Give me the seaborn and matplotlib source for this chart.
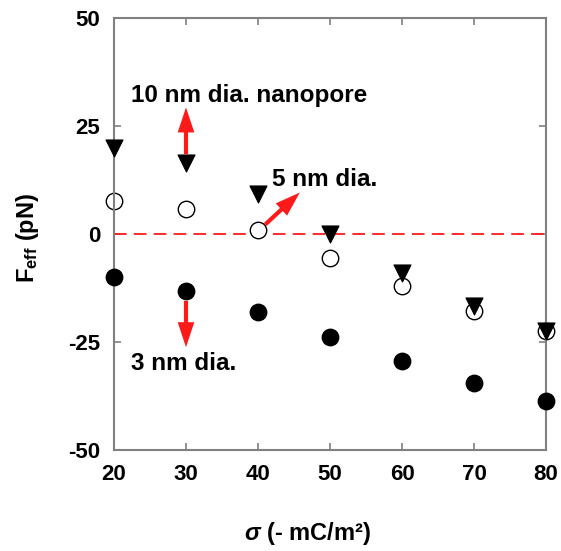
import numpy as np
import pandas as pd
import matplotlib
matplotlib.use("Agg")
import matplotlib.pyplot as plt
import seaborn as sns

# --------------------------------------------------
# DATA
# --------------------------------------------------

sigma = [20, 30, 40, 50, 60, 70, 80]
f_10nm = [20.0, 16.4, 9.2, 0.1, -9.0, -16.7, -22.5]
f_5nm = [7.7, 5.7, 0.9, -5.6, -12.1, -17.9, -22.5]
f_3nm = [-10.0, -13.1, -18.1, -23.9, -29.5, -34.6, -38.6]

x_ticks = [20, 30, 40, 50, 60, 70, 80]
y_ticks = [-50, -25, 0, 25, 50]

# --------------------------------------------------
# STYLE
# --------------------------------------------------

sns.set_style("ticks")
plt.rcParams["font.family"] = ["Liberation Sans", "DejaVu Sans"]
plt.rcParams["font.weight"] = "bold"
plt.rcParams["text.color"] = "black"
plt.rcParams["axes.labelcolor"] = "black"
plt.rcParams["axes.unicode_minus"] = False
plt.rcParams["mathtext.fontset"] = "custom"
plt.rcParams["mathtext.rm"] = "Liberation Sans:bold"
plt.rcParams["mathtext.it"] = "Liberation Sans:italic:bold"
plt.rcParams["mathtext.bf"] = "Liberation Sans:bold"

fig = plt.figure(figsize=(5.61, 5.51), dpi=100)
ax = fig.add_axes([0.2032, 0.1833, 0.7701, 0.784])

df10 = pd.DataFrame({"sigma": sigma, "F": f_10nm})
df5 = pd.DataFrame({"sigma": sigma, "F": f_5nm})
df3 = pd.DataFrame({"sigma": sigma, "F": f_3nm})

ax.axhline(0, color="#ff1a1a", lw=1.3, dashes=(7, 4), zorder=1)

sns.scatterplot(data=df10, x="sigma", y="F", ax=ax, marker="v", s=150,
                color="black", edgecolor="black", linewidth=0.8, zorder=3,
                clip_on=False)
sns.scatterplot(data=df5, x="sigma", y="F", ax=ax, marker="o", s=140,
                facecolor="white", edgecolor="black", linewidth=1.0, zorder=2,
                clip_on=False)
sns.scatterplot(data=df3, x="sigma", y="F", ax=ax, marker="o", s=140,
                color="black", edgecolor="black", linewidth=1.0, zorder=3,
                clip_on=False)

ax.set_xlim(20, 80)
ax.set_ylim(-50, 50)
ax.set_xticks(x_ticks)
ax.set_yticks(y_ticks)

for side in ["left", "right", "top", "bottom"]:
    ax.spines[side].set_color("#808080")
    ax.spines[side].set_linewidth(1.5)

ax.tick_params(direction="in", length=5, width=1.2, color="#808080",
               labelcolor="black", top=True, right=True, labelsize=16, pad=10)
for lab in ax.get_xticklabels() + ax.get_yticklabels():
    lab.set_fontweight("bold")

ax.set_xlabel("$\\sigma$ (- mC/m\u00b2)", fontsize=17, fontweight="bold")
ax.set_ylabel(r"F$_{\mathrm{eff}}$ (pN)", fontsize=17, fontweight="bold")
ax.xaxis.set_label_coords(0.447, -0.163)
ax.yaxis.set_label_coords(-0.17, 0.49)

# --------------------------------------------------
# ANNOTATIONS
# --------------------------------------------------

arrow = dict(arrowstyle="simple,head_width=1.2,head_length=1.8,tail_width=0.3",
             color="#ff1a1a", lw=0, shrinkA=0, shrinkB=0, mutation_scale=10)

ax.annotate("", xy=(30, 29.3), xytext=(30, 18.5), arrowprops=arrow)
ax.annotate("", xy=(45.8, 9.6), xytext=(41.0, 2.2), arrowprops=arrow)
ax.annotate("", xy=(30, -26.2), xytext=(30, -15.5), arrowprops=arrow)

ax.text(22.3, 32.0, "10 nm dia. nanopore", fontsize=17.5, fontweight="bold",
        va="center", ha="left")
ax.text(41.9, 12.7, "5 nm dia.", fontsize=17.5, fontweight="bold",
        va="center", ha="left")
ax.text(22.3, -29.9, "3 nm dia.", fontsize=17.5, fontweight="bold",
        va="center", ha="left")

fig.savefig("out.png", dpi=100)
plt.close(fig)
